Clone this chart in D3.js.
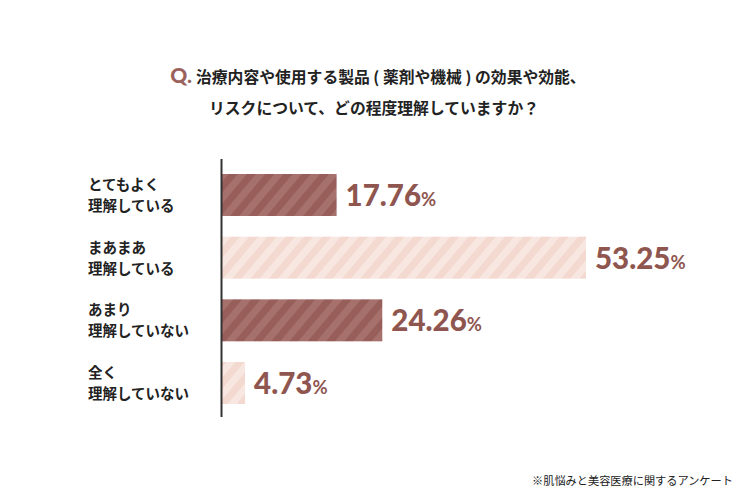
<!DOCTYPE html>
<html><head><meta charset="utf-8">
<script src="https://cdn.jsdelivr.net/npm/d3@7"></script>
<style>
body{margin:0;background:#fff;}
svg{display:block;}
</style></head>
<body>
<svg id="chart" width="750" height="500"></svg>
<script>
const categories = [["とてもよく","理解している"],["まあまあ","理解している"],["あまり","理解していない"],["全く","理解していない"]];
const values = [17.76, 53.25, 24.26, 4.73];
const shades = ["dark","light","dark","light"];
const titleLines = ["治療内容や使用する製品 ( 薬剤や機械 ) の効果や効能、","リスクについて、どの程度理解していますか？"];
const footnote = "※肌悩みと美容医療に関するアンケート";

const svg = d3.select("#chart");
const jp = "'Noto Sans CJK JP', 'Noto Sans', sans-serif";
const brown = "#8f5650";

const defs = svg.append("defs");
function stripe(id, base, line){
  const p = defs.append("pattern").attr("id", id).attr("patternUnits","userSpaceOnUse")
    .attr("width", 14).attr("height", 14).attr("patternTransform","rotate(40)");
  p.append("rect").attr("width",14).attr("height",14).attr("fill",base);
  p.append("rect").attr("width",7).attr("height",14).attr("fill",line);
}
stripe("dark", "#985f5a", "#a6716c");
stripe("light", "#f3d9cf", "#f8e7e1");

// title
const t1 = svg.append("text").attr("x", 378).attr("y", 83).attr("text-anchor","middle")
  .attr("font-family", jp).attr("font-weight", 700).attr("font-size", 15.8).attr("fill","#222");
t1.append("tspan").attr("font-family","Lato, sans-serif").attr("font-weight",900).attr("font-size",21).attr("fill","#9b625c").text("Q.");
t1.append("tspan").attr("dx", 4).text(titleLines[0]);
svg.append("text").attr("x", 374).attr("y", 114).attr("text-anchor","middle")
  .attr("font-family", jp).attr("font-weight", 700).attr("font-size", 15.8).attr("fill","#222")
  .text(titleLines[1]);

const x = d3.scaleLinear().domain([1.45, 53.25]).range([222, 586]);
const y = d3.scaleBand().domain(d3.range(categories.length)).range([174, 404]).paddingInner(0.33).paddingOuter(0);

svg.selectAll("rect.bar").data(values).join("rect").attr("class","bar")
  .attr("x", x.range()[0]).attr("y", (d,i)=>y(i))
  .attr("width", d => x(d) - x.range()[0]).attr("height", y.bandwidth())
  .attr("fill", (d,i)=>`url(#${shades[i]})`);

// axis line
svg.append("line").attr("x1",221.5).attr("x2",221.5).attr("y1",159).attr("y2",417)
  .attr("stroke","#333").attr("stroke-width",2);

// category labels
categories.forEach((c,i)=>{
  const cy = y(i) + y.bandwidth()/2;
  const t = svg.append("text").attr("x", 88).attr("font-family", jp).attr("font-weight",700)
    .attr("font-size",14.5).attr("fill","#222");
  t.append("tspan").attr("x",88).attr("y", cy - 5).text(c[0]);
  t.append("tspan").attr("x",88).attr("y", cy + 16).text(c[1]);
});

// value labels
values.forEach((v,i)=>{
  const cy = y(i) + y.bandwidth()/2;
  const t = svg.append("text").attr("x", x(v) + 9).attr("y", cy + 11)
    .attr("font-family","Lato, sans-serif").attr("font-weight",900).attr("font-size",29.5).attr("fill",brown);
  t.append("tspan").text(v.toFixed(2));
  t.append("tspan").attr("font-size",18.5).attr("font-weight",700).text("%");
});

svg.append("text").attr("x", 532).attr("y", 485).attr("font-family", jp).attr("font-size",11.2)
  .attr("fill","#222").text(footnote);
</script>
</body></html>
